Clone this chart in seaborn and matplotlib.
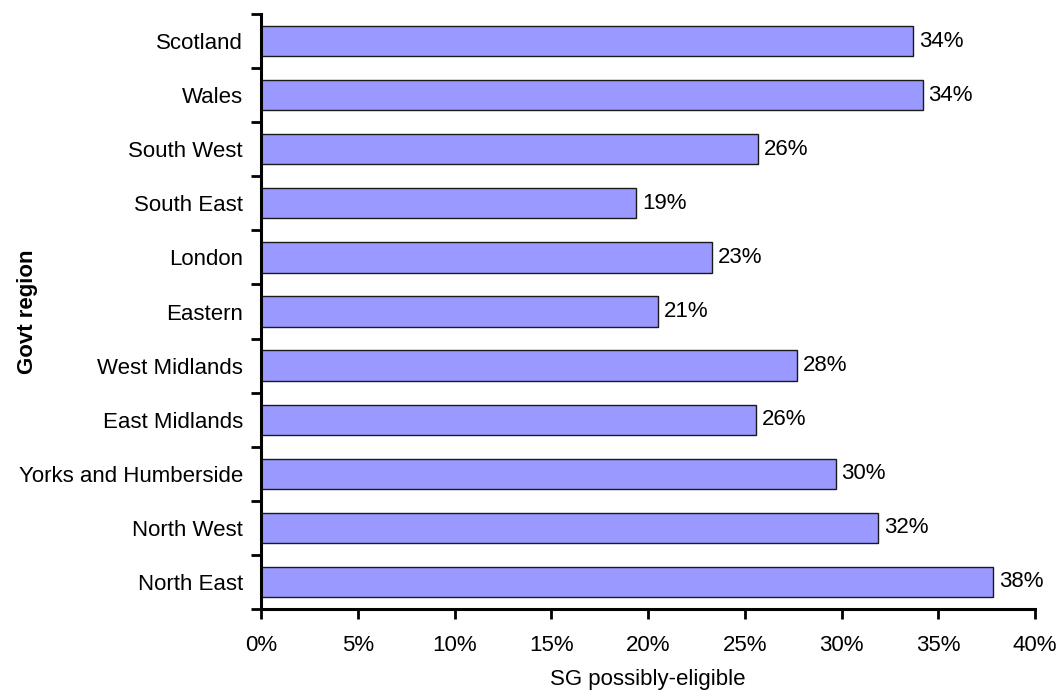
import matplotlib
matplotlib.use("Agg")
import matplotlib.pyplot as plt
import seaborn as sns
import numpy as np
import pandas as pd
from matplotlib.ticker import FuncFormatter, FixedLocator

regions = ["Scotland", "Wales", "South West", "South East", "London", "Eastern",
           "West Midlands", "East Midlands", "Yorks and Humberside", "North West", "North East"]
values = [33.7, 34.2, 25.7, 19.4, 23.3, 20.5, 27.7, 25.6, 29.7, 31.9, 37.85]
labels = ["34%", "34%", "26%", "19%", "23%", "21%", "28%", "26%", "30%", "32%", "38%"]
xticks = [0, 5, 10, 15, 20, 25, 30, 35, 40]

FS = 16

sns.set_theme(style="white")
plt.rcParams['font.family'] = ['Liberation Sans', 'DejaVu Sans']

df = pd.DataFrame({"region": regions, "value": values})

fig = plt.figure(figsize=(10.61, 6.91), dpi=100)
ax = fig.add_axes([261/1061, 1 - 609/691, (1035 - 261)/1061, (609 - 14)/691])

sns.barplot(data=df, x="value", y="region", orient="h", color="#9999FF",
            saturation=1, edgecolor="#1a1a1a", linewidth=1.0, width=0.56, ax=ax)

ax.set_xlim(0, 40)
ax.set_ylim(len(regions) - 0.5, -0.5)

for i, (v, lab) in enumerate(zip(values, labels)):
    ax.text(v + 0.3, i, lab, va="center", ha="left", fontsize=FS, color="black")

ax.xaxis.set_major_locator(FixedLocator(xticks))
ax.xaxis.set_major_formatter(FuncFormatter(lambda x, p: f"{int(x)}%"))

# category labels at centers (minor), ticks at boundaries (major)
ax.set_yticks(np.arange(len(regions)), minor=True)
ax.set_yticklabels(regions, minor=True)
ax.set_yticks(np.arange(len(regions) + 1) - 0.5)
ax.set_yticklabels([])
ax.tick_params(axis="y", which="minor", length=0, pad=13, labelsize=FS, colors="black")
ax.tick_params(axis="y", which="major", length=7, width=2, direction="out", left=True, colors="black")
ax.tick_params(axis="x", which="major", length=7, width=2, direction="out", bottom=True,
               pad=12, labelsize=FS, colors="black")

for s in ["top", "right"]:
    ax.spines[s].set_visible(False)
for s in ["left", "bottom"]:
    ax.spines[s].set_linewidth(2.2)
    ax.spines[s].set_color("black")

ax.set_xlabel("SG possibly-eligible", fontsize=FS, color="black", labelpad=9)
ax.set_ylabel("Govt region", fontsize=FS, fontweight="bold", color="black")
ax.yaxis.set_label_coords(-0.288, 0.5)

fig.savefig("out.png", dpi=100, facecolor="white")
